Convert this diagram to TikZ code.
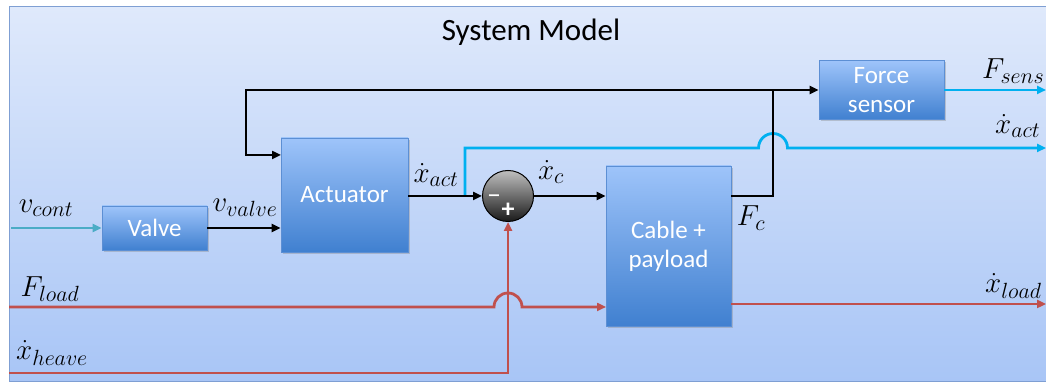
\documentclass[tikz,border=0pt]{standalone}
\usepackage{fix-cm}
\usepackage{fontspec}
\setmainfont{Carlito}
\DeclareMathSizes{29}{29}{22}{17}
\usetikzlibrary{arrows.meta,shadows}
\definecolor{bgtop}{HTML}{DFE9FB}
\definecolor{bgbot}{HTML}{A8C5F6}
\definecolor{framec}{HTML}{7F9FD3}
\definecolor{blocktop}{HTML}{9EC4FA}
\definecolor{blockbot}{HTML}{4080D0}
\definecolor{blockborder}{HTML}{5C8FD4}
\definecolor{cyanline}{HTML}{00B0F0}
\definecolor{tealline}{HTML}{4BACC6}
\definecolor{redline}{HTML}{C0504D}
\begin{document}
\begin{tikzpicture}[x=1pt,y=1pt,
  block/.style={draw=blockborder, line width=0.8pt, top color=blocktop, bottom color=blockbot,
    text=white, font=\fontsize{25}{29}\selectfont, align=center, inner sep=0pt,
    drop shadow={shadow xshift=1.5pt, shadow yshift=-2pt, opacity=0.35}},
  lab/.style={font=\fontsize{29}{33}\selectfont, inner sep=0pt},
  tip/.style={-{Triangle[length=9pt,width=8pt]}},
  blk/.style={line width=2.8pt, black},
  cyn/.style={line width=2.8pt, cyanline},
  red/.style={line width=2.8pt, redline},
  teal/.style={line width=2.8pt, tealline}
]
\useasboundingbox (0,0) rectangle (1046,385);
\fill[white] (0,0) rectangle (1046,385);
\shade[top color=bgtop, bottom color=bgbot] (9,3) rectangle (1052,378);
\draw[framec, line width=1pt] (9,3) rectangle (1052,378);
\node[font=\fontsize{31}{35}\selectfont, inner sep=0pt] (title) at (531,353) {System Model};

% blocks
\node[block, minimum width=105pt, minimum height=44pt] (valve) at (154.5,157) {Valve};
\node[block, minimum width=127pt, minimum height=114pt] (act) at (344.5,190) {Actuator};
\node[block, minimum width=125pt, minimum height=160pt] (cable) at (668.5,139) {Cable +\\payload};
\node[block, minimum width=125pt, minimum height=59pt] (fs) at (881.5,295) {Force\\sensor};
\node[circle, draw=black, line width=1pt, top color=black!25, bottom color=black!90,
      minimum size=51pt, inner sep=0pt] (sum) at (508,189) {};
\node[text=white, font=\fontsize{28}{30}\selectfont, inner sep=0pt, anchor=base] (minus) at (494,181) {–};
\node[text=white, font=\fontsize{26}{28}\selectfont\bfseries, inner sep=0pt] (plus) at (508,175) {+};

% coordinates
\coordinate (vin) at (11,157);
\coordinate (j) at (773,295);
\coordinate (cout) at (731,189);
\coordinate (jb) at (773,189);
\coordinate (tl) at (246,295);
\coordinate (tin) at (246,230);
\coordinate (actin) at (281,230);
\coordinate (bs) at (465,189);
\coordinate (bup) at (465,237);
\coordinate (bh) at (758.5,237);
\coordinate (bend) at (1046,237);
\coordinate (fsend) at (1046,295);
\coordinate (lin) at (9,78);
\coordinate (lh) at (494,78);
\coordinate (lcab) at (606,78);
\coordinate (hin) at (9,12);
\coordinate (hc) at (508,12);
\coordinate (lout) at (731,81);
\coordinate (lend) at (1046,81);

% connectors
\draw[teal, tip] (vin) -- (valve.west);
\draw[blk, tip] (valve.east) -- (act.west |- valve.east);
\draw[cyn, tip] (bs) -- (bup) -- (bh) arc[start angle=180, end angle=0, radius=14.5pt] -- (bend);
\draw[blk, tip] (act.east |- sum.west) -- (sum.west);
\draw[blk, tip] (sum.east) -- (cable.west |- sum.east);
\draw[blk] (cout) -- (jb) -- (j);
\draw[blk, tip] (j) -- (fs.west);
\draw[blk, tip] (j) -- (tl) -- (tin) -- (actin);
\draw[cyn, tip] (fs.east) -- (fsend);
\draw[red, tip] (hin) -- (hc) -- (sum.south);
\draw[red, tip] (lin) -- (lh) arc[start angle=180, end angle=0, radius=14pt] -- (lcab);
\draw[red, tip] (lout) -- (lend);

% labels
\node[lab] (lvc) at (46,177) {$v_{cont}$};
\node[lab] (lvv) at (245,177) {$v_{valve}$};
\node[lab] (lxa) at (436,210) {$\dot x_{act}$};
\node[lab] (lxc) at (551,213) {$\dot x_{c}$};
\node[lab] (lfc) at (751,167) {$F_{c}$};
\node[lab] (lfl) at (50,96) {$F_{load}$};
\node[lab] (lxh) at (52,32) {$\dot x_{heave}$};
\node[lab, anchor=west] (lfs) at (982,314) {$F_{sens}$};
\node[lab, anchor=west] (lxar) at (995,259) {$\dot x_{act}$};
\node[lab, anchor=west] (lxl) at (985,99) {$\dot x_{load}$};
\end{tikzpicture}
\end{document}
